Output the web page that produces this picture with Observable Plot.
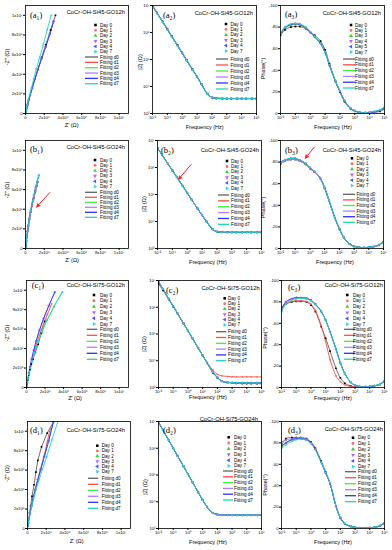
<!DOCTYPE html>
<html><head><meta charset="utf-8">
<script src="https://cdn.jsdelivr.net/npm/d3@7"></script>
<script src="https://cdn.jsdelivr.net/npm/@observablehq/plot@0.6"></script>
<style>
html,body{margin:0;padding:0;background:#fff;}
#root{position:relative;width:392px;height:550px;overflow:hidden;background:#fff;}
#root svg{position:absolute;}
</style></head><body><div id="root"></div>
<script>
// ---------------- DATA ----------------
const freq = [1e5,5e4,2e4,1e4,5e3,2e3,1e3,500,200,100,50,20,10,5,2,1,0.5,0.2,0.1,0.05,0.02,0.01];

// Bode |Z| (ohm) and phase (deg)
const zA0 = [3500,3500,3500,3500,3500,3500,3500,3520,3600,3900,5400,12500,23500,43000,97000,180000,335000,740000,1380000,2550000,5500000,10400000];
const zA  = [3600,3600,3600,3600,3600,3600,3600,3620,3680,3950,5300,12000,22500,41000,92000,170000,315000,700000,1300000,2400000,5200000,9800000];
const pA0 = [-4,-2,-1,-0.8,-0.6,-1,-2,-4.5,-11,-20,-30,-46,-59,-67,-72.5,-75.5,-78.5,-80.5,-80.5,-80,-77.5,-72.5];
const pA1 = [-5,-3,-1.5,-1,-0.8,-1.2,-2.5,-5,-12,-21,-30,-45,-57,-65,-71,-75,-79,-82,-82.5,-82,-79,-73.5];
const pA3 = [-5.5,-3,-1.5,-1,-0.8,-1.2,-2.5,-5,-12,-20.5,-29.5,-44.5,-56.5,-64.5,-71,-75.5,-79.5,-82.5,-83,-82.5,-79.5,-74];
const pA7 = [-6,-3.5,-2,-1.2,-0.9,-1.3,-2.6,-5.2,-12,-21,-30,-45,-57,-65,-71.5,-76,-80,-83,-83.5,-83,-80,-74.5];

const zB  = [3980,3980,3980,3980,3980,3980,3980,3990,4020,4200,5200,9900,17000,30000,64000,115000,205000,440000,780000,1380000,2950000,5250000];
const pB  = [-6,-3,-1.5,-1,-0.8,-1.1,-2,-4,-10,-18,-28,-44,-56,-65,-71,-74,-78,-81,-82.5,-82.5,-81,-78.5];
const pB7 = [-6.5,-3.5,-1.8,-1.1,-0.9,-1.2,-2.1,-4.2,-10.5,-18.5,-28.5,-44.5,-56.5,-65.5,-71.5,-75,-79,-82,-83.5,-83.5,-82,-80];

const zC0 = [1400,1400,1400,1400,1400,1420,1450,1530,1750,2300,3500,8300,15800,30000,70000,132000,250000,580000,1050000,1950000,4300000,7400000];
const zC1 = [2500,2500,2500,2500,2500,2500,2520,2580,2750,3100,4400,8600,15800,30000,70000,132000,250000,580000,1100000,2070000,4820000,9100000];
const zC  = [1500,1500,1500,1500,1500,1510,1520,1550,1700,2400,3700,8400,15800,30000,70000,132000,250000,580000,1100000,2070000,4820000,9100000];
const pC0 = [-6,-3,-1.5,-0.8,-0.5,-0.5,-0.8,-1.5,-4,-9,-18,-34,-46,-57,-71,-77,-80,-80.5,-80.5,-80,-78,-75];
const pC1 = [-6,-3,-1.5,-0.7,-0.4,-0.4,-0.6,-1,-2.5,-5.5,-11,-26,-43,-58,-72,-78,-80.5,-81,-81,-80.5,-78.5,-75];
const pC  = [-6,-3,-1.5,-1,-0.8,-1,-2,-5,-13,-23,-36,-52,-63,-71,-78,-81.5,-83.5,-84,-84,-83,-80,-73];
const pC7 = [-6.5,-3.3,-1.6,-1,-0.8,-1,-2,-5,-13,-23,-36,-52,-63,-71,-77.5,-81,-83,-83.5,-83,-82,-78,-71];

const zD  = [3160,3160,3160,3160,3160,3160,3160,3170,3200,3350,3800,6400,11600,22600,55000,108000,211000,514000,1000000,1970000,4800000,9400000];
const pD0 = [-5,-2.5,-1,-0.7,-0.5,-0.6,-1,-2,-4.5,-10,-21,-42,-53,-63,-75,-81,-84,-85,-85,-85,-84,-77.5];
const pD  = [-5,-2.5,-1,-0.7,-0.5,-0.6,-1,-2,-4.5,-10,-21,-42,-52,-62,-74,-80,-83,-84,-84,-83,-80,-77];
const pD3 = [-5,-2.5,-1,-0.7,-0.5,-0.6,-1,-2,-4.5,-10,-21,-42,-52,-62,-74,-80.5,-83.5,-84.5,-84.5,-84,-82.5,-81];
const pD7 = [-5.5,-2.8,-1.2,-0.8,-0.6,-0.7,-1.1,-2.2,-4.8,-10.5,-21.5,-42.5,-52.5,-62,-73.5,-79.5,-82.5,-83.5,-83,-81.5,-78,-75];

// Nyquist Z' and -Z'' (in 10^6 ohm), low-frequency branch
const nqA0x = [0.03,0.07,0.13,0.22,0.34,0.5,0.72,1.0,1.33,1.72,2.18,2.68,3.2];
const nqA0y = [0.12,0.3,0.55,0.9,1.35,1.9,2.6,3.5,4.5,5.7,7.0,8.5,10.0];
const nqA1x = [0.03,0.07,0.13,0.22,0.34,0.5,0.72,1.0,1.33,1.72,2.15,2.6,3.0];
const nqA1y = [0.12,0.3,0.55,0.9,1.35,1.9,2.6,3.5,4.5,5.6,6.8,8.1,9.4];
const nqA7x = [0.03,0.06,0.11,0.19,0.3,0.44,0.63,0.87,1.15,1.5,1.9,2.3,2.75];
const nqA7y = [0.12,0.3,0.55,0.9,1.35,1.9,2.6,3.5,4.5,5.7,7.0,8.5,10.0];

const nqBx  = [0.02,0.05,0.09,0.15,0.22,0.31,0.42,0.55,0.7,0.87,1.05,1.2,1.32];
const nqBy  = [0.15,0.4,0.75,1.2,1.75,2.35,3.0,3.7,4.4,5.1,5.8,6.35,6.8];
const nqB7x = [0.02,0.05,0.09,0.15,0.22,0.31,0.42,0.55,0.7,0.88,1.07,1.25,1.42];
const nqB7y = [0.15,0.4,0.75,1.2,1.75,2.4,3.1,3.85,4.6,5.4,6.15,6.85,7.45];

const nqC0x = [0.03,0.08,0.15,0.25,0.37,0.52,0.7,0.95,1.26,1.6,1.95];
const nqC0y = [0.2,0.45,0.8,1.3,1.85,2.4,2.9,3.6,4.45,5.6,6.8];
const nqC1x = [0.03,0.08,0.15,0.25,0.38,0.55,0.78,1.05,1.4,1.8,2.25,2.7];
const nqC1y = [0.2,0.5,0.9,1.4,2.0,2.7,3.5,4.4,5.4,6.4,7.5,8.6];
const nqCx  = [0.03,0.08,0.15,0.25,0.38,0.55,0.78,1.05,1.4,1.85,2.4,3.05];
const nqCy  = [0.2,0.5,0.9,1.45,2.1,2.9,3.8,4.8,5.9,7.1,8.4,9.8];
const nqC7x = [0.03,0.08,0.16,0.27,0.42,0.62,0.88,1.2,1.65,2.2,2.95,3.85];
const nqC7y = [0.2,0.5,0.9,1.4,2.0,2.75,3.6,4.6,5.7,6.9,8.3,9.8];

const nqD0x = [0.03,0.08,0.14,0.22,0.33,0.48,0.7,0.9,1.1,1.5,2.1,2.86];
const nqD0y = [0.25,0.6,1.08,1.6,2.3,3.3,4.5,5.8,7.0,8.4,9.8,11.1];
const nqD1x = [0.03,0.09,0.17,0.28,0.42,0.6,0.82,1.08,1.38,1.72,2.07,2.41];
const nqD1y = [0.25,0.6,1.05,1.6,2.3,3.1,4.0,5.0,6.1,7.3,8.7,10.25];
const nqDx  = [0.03,0.09,0.17,0.28,0.42,0.6,0.83,1.1,1.42,1.8,2.25,2.76];
const nqDy  = [0.25,0.6,1.05,1.6,2.3,3.1,4.0,5.0,6.1,7.4,9.0,10.95];
const nqD7x = [0.03,0.09,0.18,0.3,0.46,0.66,0.92,1.23,1.6,2.05,2.6,3.28];
const nqD7y = [0.25,0.6,1.05,1.6,2.3,3.1,4.0,5.0,6.1,7.4,9.1,11.1];

const dayNames   = ["Day 0","Day 1","Day 2","Day 3","Day 4","Day 7"];
const dayNamesA3 = ["Day 0","Day 1","Day 3","Day 4","Day 5","Day 7"];
const fitNames   = ["Fitting d0","Fitting d1","Fitting d2","Fitting d3","Fitting d4","Fitting d7"];
const titles = {a:"CoCr-OH-Si45-GO12h", b:"CoCr-OH-Si45-GO24h", c:"CoCr-OH-Si75-GO12h", d:"CoCr-OH-Si75-GO24h"};

const nyqTicks   = [0,2,4,6,8,10];
const freqTicks  = [1e-2,1e-1,1,10,100,1e3,1e4,1e5];
const magTicks   = [1e3,1e4,1e5,1e6,1e7];
const phaseTicks = [-100,-80,-60,-40,-20,0];

const rowSeries = {
  a:{mag:[zA0,zA,zA,zA,zA,zA], ph:[pA0,pA1,pA1,pA3,pA3,pA7],
     nq:[[nqA0x,nqA0y],[nqA1x,nqA1y],[nqA1x,nqA1y],[nqA1x,nqA1y],[nqA1x,nqA1y],[nqA7x,nqA7y]]},
  b:{mag:[zB,zB,zB,zB,zB,zB], ph:[pB,pB,pB,pB,pB7,pB7],
     nq:[[nqBx,nqBy],[nqBx,nqBy],[nqBx,nqBy],[nqBx,nqBy],[nqB7x,nqB7y],[nqB7x,nqB7y]]},
  c:{mag:[zC0,zC1,zC,zC,zC,zC], ph:[pC0,pC1,pC7,pC,pC,pC7],
     nq:[[nqC0x,nqC0y],[nqC1x,nqC1y],[nqC7x,nqC7y],[nqCx,nqCy],[nqCx,nqCy],[nqC7x,nqC7y]]},
  d:{mag:[zD,zD,zD,zD,zD,zD], ph:[pD0,pD,pD,pD3,pD,pD7],
     nq:[[nqD0x,nqD0y],[nqD1x,nqD1y],[nqDx,nqDy],[nqDx,nqDy],[nqDx,nqDy],[nqD7x,nqD7y]]}
};

// ---------------- STYLE / LAYOUT ----------------
const dayColors = ["#000000","#ff6a6a","#2fd82f","#c060f0","#5050ff","#30d8d8"];
const fitColors = ["#606060","#ff4a4a","#40ee40","#b080ff","#3030ff","#20d8b0"];
const S3 = Math.sqrt(3);
function tri(angle){
  const a = angle*Math.PI/180, c = Math.cos(a), s = Math.sin(a);
  return {draw(ctx, size){
    const y = -Math.sqrt(size/(S3*3));
    [[0,y*2],[-S3*y,-y],[S3*y,-y]].forEach(([px,py],i)=>{
      const rx = px*c - py*s, ry = px*s + py*c;
      if(i) ctx.lineTo(rx,ry); else ctx.moveTo(rx,ry);
    });
    ctx.closePath();
  }};
}
const daySymbols = [d3.symbolSquare, d3.symbolCircle, tri(0), tri(180), tri(-90), tri(90)];

const frames = {
  a:{top:5,bottom:113,cols:[[25,128],[152,256],[280,384]]},
  b:{top:140,bottom:248,cols:[[25,128],[157,261],[280,383]]},
  c:{top:280,bottom:387,cols:[[26,128],[158,261],[281,384]]},
  d:{top:421,bottom:528,cols:[[27,130],[158,261],[281,384]]}
};
const ML=26, MR=10, MT=5, MB=20;
const FONT = "'Liberation Sans', Arial, sans-serif";

const supMap = {"-":"⁻","0":"⁰","1":"¹","2":"²","3":"³","4":"⁴","5":"⁵","6":"⁶","7":"⁷","8":"⁸","9":"⁹"};
const toSup = s => [...String(s)].map(c=>supMap[c]).join("");
const powFmt = d => "10" + toSup(Math.round(Math.log10(d)));
const nyqFmt = d => d === 0 ? "0" : (d >= 10 ? (d/10) + "x10" + toSup(7) : d + "x10" + toSup(6));

const root = document.getElementById("root");

function makePlot(kind, rowKey, col){
  const fr = frames[rowKey], [l,r] = fr.cols[col];
  const w = r-l+ML+MR, h = fr.bottom-fr.top+MT+MB;
  const rs = rowSeries[rowKey];
  let data, x, y, curve;
  if (kind==="nyq"){
    data = rs.nq.map(([xs,ys])=>xs.map((v,i)=>({x:v, y:ys[i]})));
    x = {domain:[0,11], ticks:nyqTicks, tickFormat:nyqFmt};
    y = {domain:[0,11], ticks:nyqTicks, tickFormat:nyqFmt};
    curve="linear";
  } else if (kind==="mag"){
    data = rs.mag.map(m=>freq.map((f,i)=>({x:f, y:m[i]})));
    x = {type:"log", domain:[1e-2,1e5], ticks:freqTicks, tickFormat:powFmt};
    y = {type:"log", domain:[1e3,1e7], ticks:magTicks, tickFormat:powFmt};
    curve="catmull-rom";
  } else {
    data = rs.ph.map(p=>freq.map((f,i)=>({x:f, y:p[i]})));
    x = {type:"log", domain:[1e-2,1e5], ticks:freqTicks, tickFormat:powFmt};
    y = {domain:[0,-100], ticks:phaseTicks, tickFormat:d=>String(d)};
    curve="catmull-rom";
  }
  Object.assign(x,{tickSize:2,tickPadding:1,label:null});
  Object.assign(y,{tickSize:2,tickPadding:1,label:null});
  const marks = [];
  data.forEach((d,k)=>marks.push(Plot.line(d,{x:"x",y:"y",stroke:fitColors[k],strokeWidth:0.9,curve,clip:true})));
  data.forEach((d,k)=>marks.push(Plot.dot(d,{x:"x",y:"y",symbol:daySymbols[k],r:0.95,fill:dayColors[k],stroke:"none",clip:true})));
  marks.push(Plot.frame({stroke:"#000",strokeWidth:0.8}));
  const svg = Plot.plot({
    width:w, height:h, marginLeft:ML, marginRight:MR, marginTop:MT, marginBottom:MB,
    x, y,
    style:{fontSize:"4.2px", fontFamily:FONT, background:"transparent", overflow:"visible", color:"#000"},
    marks
  });
  svg.style.left = (l-ML)+"px";
  svg.style.top = (fr.top-MT)+"px";
  root.appendChild(svg);
}

const panels = [
 {row:"a",col:0,kind:"nyq",label:"(a₁)",lab:[30,15],title:[125,12],leg:{mx:95.5,tx:100,lx:[85,98],y0:25,dy:5.35,fy0:57,fdy:5.35}},
 {row:"a",col:1,kind:"mag",label:"(a₂)",lab:[163,15],title:[253,13],leg:{mx:226,tx:230.5,lx:[216,228],y0:24,dy:5.4,fy0:59,fdy:6}},
 {row:"a",col:2,kind:"ph",label:"(a₃)",lab:[285,14],title:[381,13],leg:{mx:351,tx:355,lx:[343,355],y0:25,dy:5.4,fy0:59,fdy:5.8},days:dayNamesA3},
 {row:"b",col:0,kind:"nyq",label:"(b₁)",lab:[30,149],title:[125,147],leg:{mx:95,tx:100,lx:[85,97],y0:160,dy:5.33,fy0:192.3,fdy:5}},
 {row:"b",col:1,kind:"mag",label:"(b₂)",lab:[161,150],title:[259,150],leg:{mx:227,tx:231,lx:[218,229],y0:161,dy:5.47,fy0:195,fdy:5.87}},
 {row:"b",col:2,kind:"ph",label:"(b₃)",lab:[285,150],title:[381,150],leg:{mx:352,tx:356.5,lx:[343,355],y0:158.3,dy:5.47,fy0:194.3,fdy:5.6}},
 {row:"c",col:0,kind:"nyq",label:"(c₁)",lab:[31.7,285],title:[125,285],leg:{mx:94,tx:100,lx:[86.7,97.3],y0:295,dy:5.8,fy0:329.3,fdy:6}},
 {row:"c",col:1,kind:"mag",label:"(c₂)",lab:[166,290],title:[259.7,288.3],leg:{mx:224.7,tx:228,lx:[216,226.3],y0:298.3,dy:5.33,fy0:331.7,fdy:5.8}},
 {row:"c",col:2,kind:"ph",label:"(c₃)",lab:[288,286.7],title:[383,285],leg:{mx:347.3,tx:353,lx:[344,355],y0:295,dy:5.87,fy0:329.3,fdy:6}},
 {row:"d",col:0,kind:"nyq",label:"(d₁)",lab:[30,430],title:[125,430],leg:{mx:97.3,tx:101.7,lx:[88,98.3],y0:445.7,dy:5.2,fy0:478.3,fdy:6}},
 {row:"d",col:1,kind:"mag",label:"(d₂)",lab:[163,430],title:[258,419],leg:{mx:228.7,tx:234,lx:[223,233],y0:437.3,dy:5.73,fy0:471,fdy:5.8}},
 {row:"d",col:2,kind:"ph",label:"(d₃)",lab:[288,430],title:[383,429],leg:{mx:353,tx:358,lx:[345,356],y0:437.7,dy:5.8,fy0:471.7,fdy:6}}
];

const axisTitles = [
 ["Z' (Ω)",71.7,125,false],["Z' (Ω)",72,260,false],["Z' (Ω)",75,398.3,false],["Z' (Ω)",76.7,541,false],
 ["-Z'' (Ω)",7,57,true],["-Z'' (Ω)",7.3,190,true],["-Z'' (Ω)",7.3,333,true],["-Z'' (Ω)",7.3,473.5,true],
 ["|Z| (Ω)",139.7,62,true],["|Z| (Ω)",144,204,true],["|Z| (Ω)",144,344,true],["|Z| (Ω)",144.7,487,true],
 ["Phase(°)",263,68.5,true],["Phase(°)",263,207.5,true],["Phase(°)",265.3,338,true],["Phase(°)",265.3,485,true],
 ["Frequency (Hz)",204.7,126.7,false],["Frequency (Hz)",333,127.3,false],["Frequency (Hz)",208,262.3,false],["Frequency (Hz)",335,262.3,false],
 ["Frequency (Hz)",208,396.7,false],["Frequency (Hz)",333,398.3,false],["Frequency (Hz)",208,541.7,false],["Frequency (Hz)",333,541.7,false]
];
const arrows = [[50,192.3,36,207.7],[191.3,164.3,178,180],[314.7,146.7,304.7,159]];

panels.forEach(p=>makePlot(p.kind,p.row,p.col));

// ---------------- OVERLAY (titles, legends, labels) ----------------
const ov = d3.select(root).append("svg").attr("width",392).attr("height",550)
  .style("left","0px").style("top","0px").style("overflow","visible");
function txt(x,y,s,o={}){
  const t = ov.append("text").attr("x",x).attr("y",y).attr("dominant-baseline","central")
    .attr("text-anchor",o.anchor||"start").attr("font-size",o.size||5)
    .attr("font-family",o.family||FONT).attr("fill","#000").text(s);
  if (o.rot) t.attr("transform",`rotate(-90 ${x} ${y})`);
}
panels.forEach(p=>{
  txt(p.lab[0],p.lab[1],p.label,{size:8.5,family:"'Liberation Serif','DejaVu Serif',serif"});
  txt(p.title[0],p.title[1],titles[p.row],{size:5.8,anchor:"end"});
  const L = p.leg, names = p.days || dayNames;
  names.forEach((n,k)=>{
    const yy = L.y0 + k*L.dy;
    ov.append("path").attr("d",d3.symbol(daySymbols[k],6.5)()).attr("transform",`translate(${L.mx},${yy})`).attr("fill",dayColors[k]);
    txt(L.tx,yy,n,{size:4.6});
  });
  fitNames.forEach((n,k)=>{
    const yy = L.fy0 + k*L.fdy;
    ov.append("line").attr("x1",L.lx[0]).attr("x2",L.lx[1]).attr("y1",yy).attr("y2",yy)
      .attr("stroke",fitColors[k]).attr("stroke-width",1.3);
    txt(L.tx,yy,n,{size:4.6});
  });
});
axisTitles.forEach(([s,x,y,rot])=>txt(x,y,s,{size:5.5,anchor:"middle",rot}));
arrows.forEach(([x1,y1,x2,y2])=>{
  const a = Math.atan2(y2-y1,x2-x1), hl=4.5, hw=2.2;
  const bx = x2 - hl*Math.cos(a), by = y2 - hl*Math.sin(a);
  ov.append("line").attr("x1",x1).attr("y1",y1).attr("x2",bx).attr("y2",by).attr("stroke","#ff2020").attr("stroke-width",1);
  ov.append("path").attr("d",`M${x2},${y2}L${bx+hw*Math.sin(a)},${by-hw*Math.cos(a)}L${bx-hw*Math.sin(a)},${by+hw*Math.cos(a)}Z`).attr("fill","#ff2020");
});
</script></body></html>
